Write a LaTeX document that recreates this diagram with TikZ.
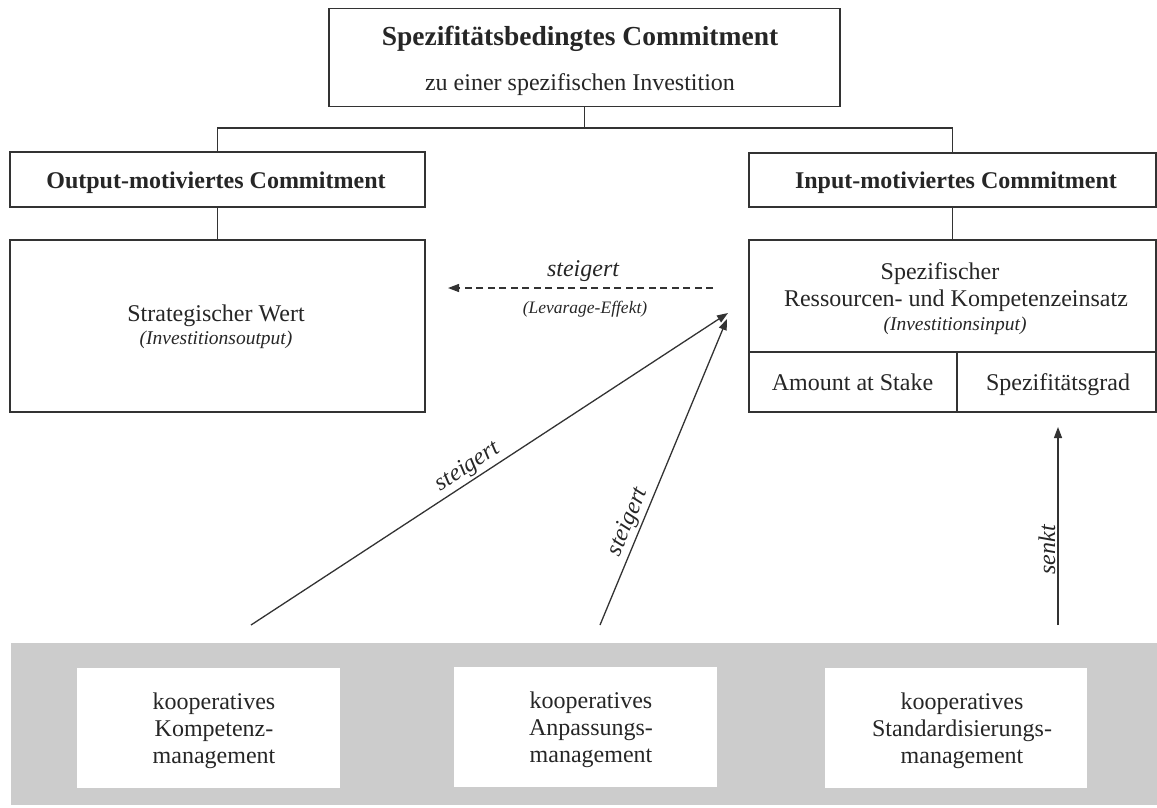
\documentclass[tikz,border=0pt]{standalone}
\usepackage{fontspec}
\setmainfont{Liberation Serif}
\usetikzlibrary{arrows.meta}
\definecolor{linec}{HTML}{333333}
\definecolor{txt}{HTML}{262626}
\definecolor{bandgray}{HTML}{CCCCCC}
\begin{document}
\begin{tikzpicture}[x=1pt,y=-1pt,
  frame/.style={draw=linec, line width=1.7pt, fill=white, inner sep=0pt},
  plain/.style={fill=white, inner sep=0pt},
  tx/.style={inner sep=0pt, anchor=base, text=txt, font=\fontsize{24}{29}\selectfont},
  hd/.style={tx, font=\fontsize{24}{29}\selectfont\bfseries},
  sub/.style={tx, font=\fontsize{19.5}{23}\selectfont\itshape},
  link/.style={draw=linec, line width=1.2pt},
  arr/.style={draw=linec, line width=1.3pt, -{Triangle[length=11pt,width=8pt]}},
  lbl/.style={font=\fontsize{24}{29}\selectfont\itshape, text=txt, inner sep=2pt}
]
\useasboundingbox (0,0) rectangle (1157,807);

% hierarchy boxes
\node[frame, minimum width=511pt, minimum height=98pt] (top) at (584.5,57.5) {};
\node[hd, font=\fontsize{27.5}{32}\selectfont\bfseries] (topA) at (580,45) {Spezifitätsbedingtes Commitment};
\node[tx] (topB) at (580,90) {zu einer spezifischen Investition};

\node[frame, minimum width=415pt, minimum height=55pt] (out) at (217.5,179.5) {};
\node[hd] (outT) at (216,188) {Output-motiviertes Commitment};
\node[frame, minimum width=407pt, minimum height=54pt] (in) at (952.5,180) {};
\node[hd] (inT) at (956,188) {Input-motiviertes Commitment};

\node[frame, minimum width=415pt, minimum height=172pt] (sw) at (217.5,326) {};
\node[tx] (swA) at (216,321.5) {Strategischer Wert};
\node[sub] (swB) at (216,344) {(Investitionsoutput)};

\node[frame, minimum width=407pt, minimum height=112pt] (sp) at (952.5,296) {};
\node[tx] (spA) at (940,279) {Spezifischer};
\node[tx] (spB) at (956,306.5) {Ressourcen- und Kompetenzeinsatz};
\node[sub] (spC) at (955,330) {(Investitionsinput)};
\node[frame, minimum width=208pt, minimum height=60pt] (amt) at (853,382) {};
\node[tx] (amtT) at (852.5,390) {Amount at Stake};
\node[frame, minimum width=199pt, minimum height=60pt] (grad) at (1056.5,382) {};
\node[tx] (gradT) at (1058,390) {Spezifitätsgrad};

% tree connectors
\coordinate (bar) at (0,128);
\draw[link] (top.south) -- (top.south |- bar);
\draw[link] (out.north) -- (out.north |- bar) -- (in.north |- bar) -- (in.north);
\draw[link] (out.south) -- (sw.north);
\draw[link] (in.south) -- (sp.north);

% management band
\node[fill=bandgray, inner sep=0pt, minimum width=1146pt, minimum height=162pt] (band) at (584,724) {};
\node[plain, minimum width=263pt, minimum height=120pt] (m1) at (208.5,728) {};
\node[tx] (m1a) at (214,709) {kooperatives};
\node[tx] (m1b) at (214,736.5) {Kompetenz-};
\node[tx] (m1c) at (214,763) {management};
\node[plain, minimum width=263pt, minimum height=120pt] (m2) at (585.5,727) {};
\node[tx] (m2a) at (591,708) {kooperatives};
\node[tx] (m2b) at (591,735.5) {Anpassungs-};
\node[tx] (m2c) at (591,762) {management};
\node[plain, minimum width=262pt, minimum height=120pt] (m3) at (956,728) {};
\node[tx] (m3a) at (962,709) {kooperatives};
\node[tx] (m3b) at (962,736.5) {Standardisierungs-};
\node[tx] (m3c) at (962,763) {management};

% influence arrows
\coordinate (lev1) at (713,288);
\coordinate (lev0) at (448,288);
\draw[arr, dash pattern=on 7pt off 4.5pt] (lev1) -- (lev0);
\node[tx, font=\fontsize{24}{29}\selectfont\itshape] (levA) at (583,276) {steigert};
\node[tx, font=\fontsize{17.5}{21}\selectfont\itshape] (levB) at (585,313) {(Levarage-Effekt)};

\coordinate (s1) at (251,625);
\coordinate (e1) at (728,313);
\coordinate (s2) at (600,625);
\coordinate (e2) at (727,319);
\coordinate (s3) at (1058,625);
\coordinate (e3) at (1058,427);
\draw[arr] (s1) -- (e1) node[pos=0.47, sloped, above, lbl] (l1) {steigert};
\draw[arr] (s2) -- (e2) node[pos=0.32, sloped, above, lbl] (l2) {steigert};
\draw[arr] (s3) -- (e3) node[pos=0.38, sloped, above, lbl] (l3) {senkt};
\end{tikzpicture}
\end{document}
